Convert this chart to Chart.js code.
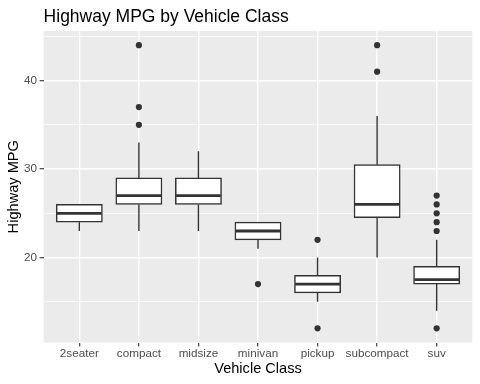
<!DOCTYPE html>
<html lang="en">
<head>
<meta charset="UTF-8">
<title>Highway MPG by Vehicle Class</title>
<script src="https://cdn.jsdelivr.net/npm/chart.js"></script>
<style>
  html, body { margin: 0; padding: 0; background: #fff; }
  canvas { display: block; }
</style>
</head>
<body>
<canvas id="mpgChart" width="480" height="384"></canvas>
<script>
// values
const classes = ['2seater', 'compact', 'midsize', 'minivan', 'pickup', 'subcompact', 'suv'];
const whiskerLow  = [23, 23, 23, 21, 15, 20, 14];
const boxLow      = [24, 26, 26, 22, 16, 24.5, 17];
const medians     = [25, 27, 27, 23, 17, 26, 17.5];
const boxHigh     = [26, 29, 29, 24, 18, 30.5, 19];
const whiskerHigh = [26, 33, 32, 24, 20, 36, 22];
const outliers = [[], [35, 37, 44], [], [17], [12, 22], [41, 44], [12, 23, 24, 25, 26, 27]];

const yTicks = [15, 20, 25, 30, 35, 40, 45];
const yLabelled = [20, 30, 40];

const FONT = '"Liberation Sans", Arial, Helvetica, sans-serif';
const INK = '#333333';

const boxData = classes.map((c, i) => ({ x: i, y: [boxLow[i], boxHigh[i]] }));
const outlierData = [];
outliers.forEach((vals, i) => vals.forEach(v => outlierData.push({ x: i, y: v })));

// grey panel + title
const panelPlugin = {
    id: 'panel',
    beforeDraw(chart) {
        const { ctx, chartArea: a } = chart;
        ctx.save();
        ctx.fillStyle = '#ffffff';
        ctx.fillRect(0, 0, chart.width, chart.height);
        ctx.fillStyle = '#EBEBEB';
        ctx.fillRect(a.left, a.top, a.right - a.left, a.bottom - a.top);
        ctx.fillStyle = '#000000';
        ctx.font = '17.5px ' + FONT;
        ctx.textBaseline = 'alphabetic';
        ctx.textAlign = 'left';
        ctx.fillText('Highway MPG by Vehicle Class', a.left, 21.5);
        ctx.restore();
    }
};

// whiskers and median lines
const boxPlugin = {
    id: 'boxExtras',
    afterDatasetsDraw(chart) {
        const { ctx, scales: { x, y } } = chart;
        const bars = chart.getDatasetMeta(0).data;
        ctx.save();
        ctx.strokeStyle = INK;
        ctx.lineCap = 'butt';
        classes.forEach((c, i) => {
            const px = x.getPixelForValue(i);
            ctx.lineWidth = 1.4;
            ctx.beginPath();
            ctx.moveTo(px, y.getPixelForValue(whiskerLow[i]));
            ctx.lineTo(px, y.getPixelForValue(boxLow[i]));
            ctx.moveTo(px, y.getPixelForValue(boxHigh[i]));
            ctx.lineTo(px, y.getPixelForValue(whiskerHigh[i]));
            ctx.stroke();
            const w = bars[i].width - 1.5;
            const py = y.getPixelForValue(medians[i]);
            ctx.lineWidth = 2.8;
            ctx.beginPath();
            ctx.moveTo(px - w / 2, py);
            ctx.lineTo(px + w / 2, py);
            ctx.stroke();
        });
        ctx.restore();
    }
};

new Chart(document.getElementById('mpgChart'), {
    type: 'bar',
    data: {
        datasets: [{
            data: boxData,
            backgroundColor: '#ffffff',
            borderColor: INK,
            borderWidth: 1.5,
            borderSkipped: false,
            barThickness: 46.2,
            order: 2
        }, {
            type: 'scatter',
            data: outlierData,
            backgroundColor: INK,
            borderColor: INK,
            pointRadius: 3.1,
            borderWidth: 0,
            order: 1
        }]
    },
    options: {
        responsive: false,
        animation: false,
        layout: { padding: { top: 31, right: 7.6, left: 0, bottom: 0 } },
        plugins: {
            legend: { display: false },
            tooltip: { enabled: false }
        },
        scales: {
            x: {
                type: 'linear',
                offset: false,
                min: -0.6,
                max: 6.6,
                afterBuildTicks: s => { s.ticks = classes.map((c, i) => ({ value: i })); },
                afterFit: s => { s.height = 41.5; },
                border: { display: false },
                grid: { offset: false, color: '#ffffff', lineWidth: 1.4, tickLength: 4, tickColor: INK, tickWidth: 1.1 },
                ticks: {
                    autoSkip: false,
                    maxRotation: 0,
                    padding: 0.5,
                    color: '#4D4D4D',
                    font: { family: FONT, size: 11.7 },
                    callback: v => classes[v]
                },
                title: {
                    display: true,
                    text: 'Vehicle Class',
                    color: '#000000',
                    font: { family: FONT, size: 14.6 },
                    padding: { top: 0, bottom: 6 }
                }
            },
            y: {
                min: 10.4,
                max: 45.6,
                afterBuildTicks: s => { s.ticks = yTicks.map(v => ({ value: v })); },
                afterFit: s => { s.width = 43.6; },
                border: { display: false },
                grid: {
                    color: '#ffffff',
                    lineWidth: c => yLabelled.includes(c.tick.value) ? 1.4 : 0.7,
                    tickLength: 4,
                    tickColor: c => yLabelled.includes(c.tick.value) ? INK : 'rgba(0,0,0,0)',
                    tickWidth: 1.1
                },
                ticks: {
                    padding: 2.5,
                    color: '#4D4D4D',
                    font: { family: FONT, size: 11.7 },
                    callback: v => yLabelled.includes(v) ? String(v) : ''
                },
                title: {
                    display: true,
                    text: 'Highway MPG',
                    color: '#000000',
                    font: { family: FONT, size: 14.6 },
                    padding: { top: 5, bottom: 0 }
                }
            }
        }
    },
    plugins: [panelPlugin, boxPlugin]
});
</script>
</body>
</html>
